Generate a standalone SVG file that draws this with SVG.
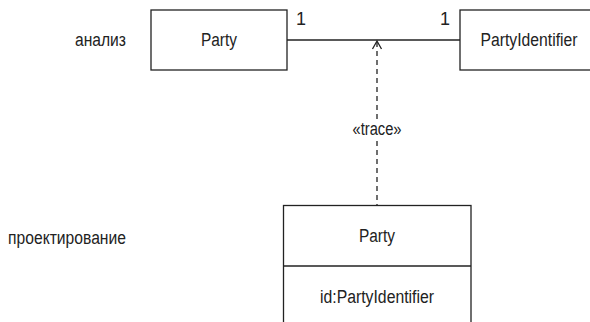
<svg xmlns="http://www.w3.org/2000/svg" width="590" height="322" viewBox="0 0 590 322">
<style>
.box{fill:#fff;stroke:#222;stroke-width:1.3}
.t{font-family:"Liberation Sans",Arial,sans-serif;font-size:18px;fill:#222;text-anchor:middle}
.l{font-family:"Liberation Sans",Arial,sans-serif;font-size:18px;fill:#222}
.c{stroke:#222;stroke-width:1.3;fill:none}
</style>
<rect width="590" height="322" fill="#fff"/>
<text class="l" x="75" y="46" textLength="51" lengthAdjust="spacingAndGlyphs">анализ</text>
<text class="l" x="8" y="244" textLength="118" lengthAdjust="spacingAndGlyphs">проектирование</text>
<g id="connectors">
<line class="c" x1="287" y1="40" x2="460" y2="40"/>
<text class="l" x="296" y="25">1</text>
<text class="l" x="440" y="25">1</text>
<line class="c" x1="377" y1="42" x2="377" y2="205" stroke-dasharray="5,4"/>
<polyline class="c" points="372.5,49 377,41 381.5,49"/>
<rect x="350" y="119" width="54" height="18" fill="#fff"/>
<text class="t" x="377" y="135" textLength="49" lengthAdjust="spacingAndGlyphs">«trace»</text>
</g>
<g id="party-analysis">
<rect class="box" x="151" y="10" width="136" height="60"/>
<text class="t" x="219" y="46" textLength="36" lengthAdjust="spacingAndGlyphs">Party</text>
</g>
<g id="partyidentifier">
<rect class="box" x="460" y="10" width="140" height="60"/>
<text class="t" x="529" y="46" textLength="97" lengthAdjust="spacingAndGlyphs">PartyIdentifier</text>
</g>
<g id="party-design">
<rect class="box" x="283.5" y="205.5" width="187.5" height="130"/>
<line class="c" x1="283.5" y1="266" x2="471" y2="266"/>
<text class="t" x="377" y="242" textLength="36" lengthAdjust="spacingAndGlyphs">Party</text>
<text class="t" x="377" y="303" textLength="114" lengthAdjust="spacingAndGlyphs">id:PartyIdentifier</text>
</g>
</svg>
